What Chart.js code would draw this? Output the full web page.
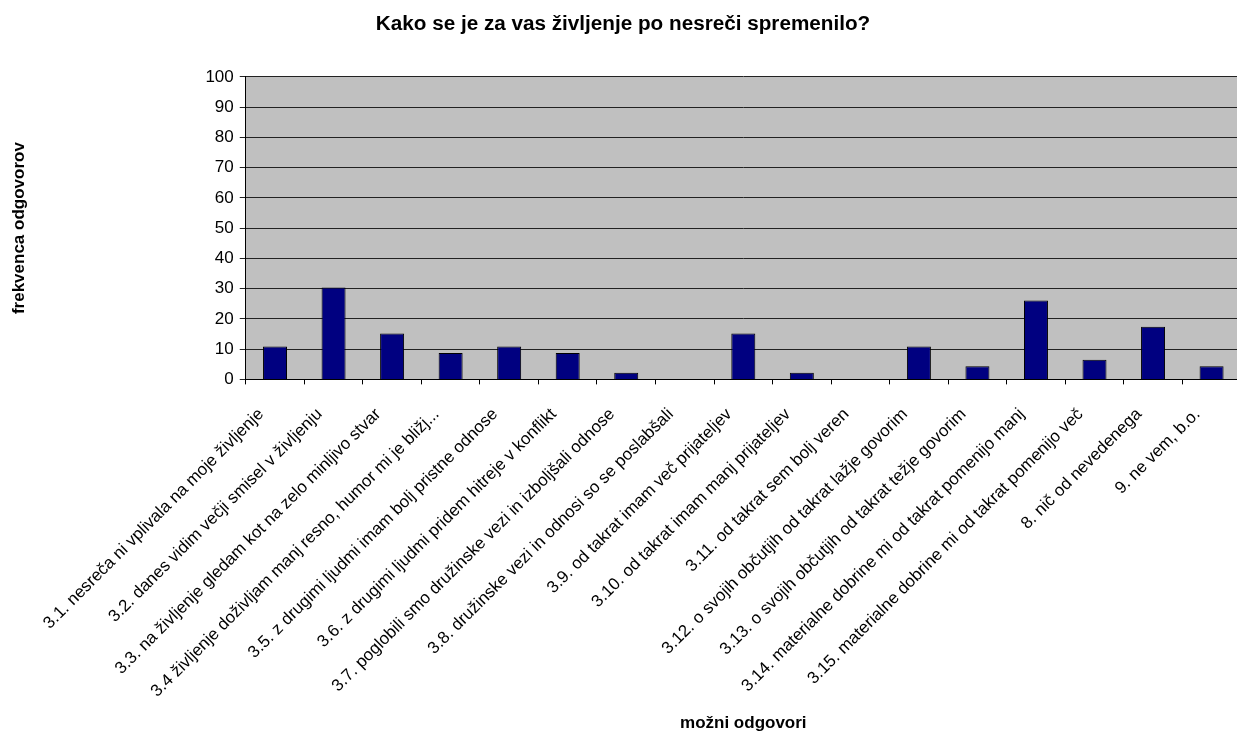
<!DOCTYPE html>
<html>
<head>
<meta charset="utf-8">
<script src="https://cdn.jsdelivr.net/npm/chart.js@4"></script>
<style>
  html, body { margin: 0; padding: 0; background: #fff; overflow: hidden; }
</style>
</head>
<body>
<canvas id="chart" width="1246" height="731"></canvas>
<script>
// Categories (possible answers)
const categories = [
  '3.1. nesreča ni vplivala na moje življenje',
  '3.2. danes vidim večji smisel v življenju',
  '3.3. na življenje gledam kot na zelo minljivo stvar',
  '3.4 življenje doživljam manj resno, humor mi je bližj...',
  '3.5. z drugimi ljudmi imam bolj pristne odnose',
  '3.6. z drugimi ljudmi pridem hitreje v konflikt',
  '3.7. poglobili smo družinske vezi in izboljšali odnose',
  '3.8. družinske vezi in odnosi so se poslabšali',
  '3.9. od takrat imam več prijateljev',
  '3.10. od takrat imam manj prijateljev',
  '3.11. od takrat sem bolj veren',
  '3.12. o svojih občutjih od takrat lažje govorim',
  '3.13. o svojih občutjih od takrat težje govorim',
  '3.14. materialne dobrine mi od takrat pomenijo manj',
  '3.15. materialne dobrine mi od takrat pomenijo več',
  '8. nič od nevedenega',
  '9. ne vem, b.o.'
];

// Frequency of answers
const frequencies = [10.9, 30.4, 15.2, 8.7, 10.9, 8.7, 2.2, 0, 15.2, 2.2, 0, 10.9, 4.3, 26.1, 6.5, 17.4, 4.3];

// Y axis range
const yMin = 0;
const yMax = 100;
const yStep = 10;

const chartTitle = 'Kako se je za vas življenje po nesreči spremenilo?';
const xTitle = 'možni odgovori';
const yTitle = 'frekvenca odgovorov';

Chart.defaults.font.family = '"Liberation Sans", Arial, sans-serif';
Chart.defaults.color = '#000';

// grey plot area background
const plotBackground = {
  id: 'plotBackground',
  beforeDraw(chart) {
    const { ctx, chartArea } = chart;
    ctx.save();
    ctx.fillStyle = '#C0C0C0';
    ctx.fillRect(chartArea.left, chartArea.top, chartArea.right - chartArea.left, chartArea.bottom - chartArea.top);
    ctx.restore();
  }
};

const ctx = document.getElementById('chart').getContext('2d');
new Chart(ctx, {
  type: 'bar',
  data: {
    labels: categories,
    datasets: [{
      data: frequencies,
      backgroundColor: '#000080',
      borderColor: '#000',
      borderWidth: 1,
      barPercentage: 0.41,
      categoryPercentage: 1
    }]
  },
  options: {
    responsive: false,
    animation: false,
    devicePixelRatio: 1,
    layout: { padding: 0 },
    plugins: {
      legend: { display: false },
      tooltip: { enabled: false },
      title: {
        display: true,
        text: chartTitle,
        font: { size: 20.7, weight: 'bold' },
        padding: { top: 12, bottom: 40 }
      }
    },
    scales: {
      x: {
        grid: { drawOnChartArea: false, drawTicks: true, tickLength: 5, color: '#000', offset: true },
        border: { color: '#000' },
        ticks: {
          autoSkip: false,
          minRotation: 45,
          maxRotation: 45,
          padding: 20,
          labelOffset: -14,
          font: { size: 17 }
        },
        title: {
          display: true,
          text: xTitle,
          font: { size: 17, weight: 'bold' },
          padding: { top: -7.8, bottom: -3 }
        }
      },
      y: {
        min: yMin,
        max: yMax,
        grid: { color: '#222', tickLength: 6 },
        border: { color: '#000' },
        ticks: {
          stepSize: yStep,
          padding: 6,
          font: { size: 17 }
        },
        title: {
          display: true,
          text: yTitle,
          font: { size: 17, weight: 'bold' },
          padding: { top: 9, bottom: 170 }
        }
      }
    }
  },
  plugins: [plotBackground]
});
</script>
</body>
</html>
